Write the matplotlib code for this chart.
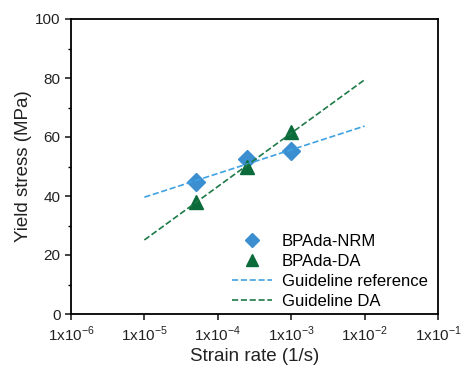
import matplotlib.pyplot as plt
from matplotlib.ticker import FixedLocator, FuncFormatter, MultipleLocator
import numpy as np

plt.rcParams['font.family'] = ['Liberation Sans', 'DejaVu Sans']
plt.rcParams['mathtext.fontset'] = 'custom'
plt.rcParams['mathtext.rm'] = 'Liberation Sans'
plt.rcParams['axes.unicode_minus'] = False

# data
rate = [5e-5, 2.5e-4, 1e-3]
nrm_stress = [44.6, 52.6, 55.2]
da_stress = [37.8, 50.0, 61.7]

guide_x = [1e-5, 1e-2]
guide_ref = [39.6, 63.7]
guide_da = [25.1, 79.4]

xticks = [1e-6, 1e-5, 1e-4, 1e-3, 1e-2, 1e-1]

fig = plt.figure(figsize=(4.61, 3.71), dpi=100)
ax = fig.add_axes([71 / 461, 1 - 314 / 371, (438 - 71) / 461, (314 - 19) / 371])

ax.plot(rate, nrm_stress, 'D', color='#3B8FD0', markersize=9, label='BPAda-NRM')
ax.plot(rate, da_stress, '^', color='#0B6B3A', markersize=10, label='BPAda-DA')
ax.plot(guide_x, guide_ref, '--', color='#3FA2E2', lw=1.2, label='Guideline reference')
ax.plot(guide_x, guide_da, '--', color='#1E7A47', lw=1.2, label='Guideline DA')

ax.set_xscale('log')
ax.set_xlim(1e-6, 1e-1)
ax.set_ylim(0, 100)
ax.xaxis.set_major_locator(FixedLocator(xticks))
ax.xaxis.set_minor_locator(FixedLocator([]))
ax.xaxis.set_major_formatter(FuncFormatter(lambda v, p: r'1x10$^{%d}$' % int(round(np.log10(v)))))
ax.yaxis.set_major_locator(MultipleLocator(20))
ax.yaxis.set_minor_locator(MultipleLocator(10))

for s in ax.spines.values():
    s.set_linewidth(1.3)
ax.tick_params(which='major', direction='out', length=4, width=1.2, labelsize=11, colors='#222222')
ax.tick_params(which='minor', direction='out', length=2.5, width=1.0)

ax.set_xlabel('Strain rate (1/s)', fontsize=13.5, color='#222222', labelpad=3)
ax.set_ylabel('Yield stress (MPa)', fontsize=13.5, color='#222222', labelpad=2)

ax.legend(loc='lower right', bbox_to_anchor=(1.012, -0.034), frameon=False, fontsize=12,
          handlelength=2.4, labelspacing=0.3, handletextpad=0.6, markerscale=0.8)

fig.savefig('out.png', dpi=100)
